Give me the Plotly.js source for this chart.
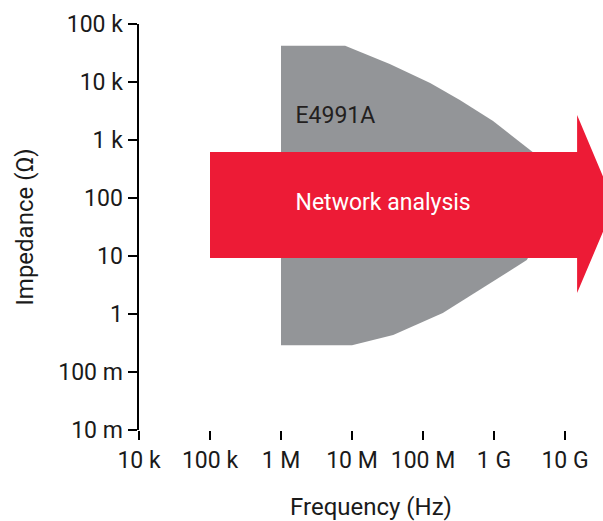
<!DOCTYPE html>
<html>
<head>
<meta charset="utf-8">
<script src="https://cdn.plot.ly/plotly-3.0.1.min.js"></script>
<style>html,body{margin:0;padding:0;background:#fff;}#chart{width:603px;height:521px;}</style>
</head>
<body>
<div id="chart"></div>
<script>
// Tick labels
const xTickVals = [1e4, 1e5, 1e6, 1e7, 1e8, 1e9, 1e10];
const xTickText = ["10 k", "100 k", "1 M", "10 M", "100 M", "1 G", "10 G"];
const yTickVals = [0.01, 0.1, 1, 10, 100, 1e3, 1e4, 1e5];
const yTickText = ["10 m", "100 m", "1", "10", "100", "1 k", "10 k", "100 k"];

// E4991A measurement range outline (frequency Hz, impedance Ohm)
const e4991Freq = [1e6, 8e6, 3.4e7, 1.26e8, 3.3e8, 9.7e8, 3.5e9, 8.5e9, 2.9e9, 6.3e8, 1.9e8, 3.8e7, 1e7, 1e6];
const e4991Imp  = [42000, 42000, 20400, 9600, 4900, 2130, 620, 93, 8.5, 2.6, 1.04, 0.435, 0.29, 0.29];

// Network analysis arrow outline
const arrowFreq = [1e5, 1.48e10, 1.48e10, 5e10, 1.48e10, 1.48e10, 1e5];
const arrowImp  = [620, 620, 2700, 78, 2.3, 9.25, 9.25];

// Labels
const labelE4991 = {text: "E4991A", f: 1.6e6, z: 2500};
const labelNA = {text: "Network analysis", f: 1.6e6, z: 78};

const FONT = "Roboto, 'Noto Sans', sans-serif";
const INK = "#1a1a1a";

const traces = [
  {x: e4991Freq, y: e4991Imp, type: "scatter", mode: "lines", fill: "toself",
   fillcolor: "#939598", line: {width: 0, color: "#939598"}, hoverinfo: "skip"},
  {x: arrowFreq, y: arrowImp, type: "scatter", mode: "lines", fill: "toself",
   fillcolor: "#ED1B36", line: {width: 0, color: "#ED1B36"}, hoverinfo: "skip"},
  {x: [labelE4991.f], y: [labelE4991.z], type: "scatter", mode: "text", text: [labelE4991.text],
   textposition: "middle right", textfont: {family: FONT, size: 23, color: "#231f20"}, hoverinfo: "skip"},
  {x: [labelNA.f], y: [labelNA.z], type: "scatter", mode: "text", text: [labelNA.text],
   textposition: "middle right", textfont: {family: FONT, size: 23, color: "#ffffff"}, hoverinfo: "skip"}
];

const layout = {
  width: 603, height: 521,
  margin: {l: 139, r: 0, t: 24, b: 91, pad: 0},
  paper_bgcolor: "#ffffff", plot_bgcolor: "#ffffff",
  showlegend: false,
  font: {family: FONT, size: 23, color: INK},
  xaxis: {
    type: "log", range: [4, 10.535], showgrid: false, zeroline: false, showline: false,
    tickmode: "array", tickvals: xTickVals, ticktext: xTickText,
    ticks: "outside", ticklen: 9, tickwidth: 2.5, tickcolor: "#000",
    tickfont: {family: FONT, size: 23, color: INK},
    title: {text: "Frequency (Hz)", font: {family: FONT, size: 24, color: INK}, standoff: 28},
    automargin: false, fixedrange: true
  },
  yaxis: {
    type: "log", range: [-2, 5], showgrid: false, zeroline: false,
    showline: true, linecolor: "#000", linewidth: 2.5,
    tickmode: "array", tickvals: yTickVals, ticktext: yTickText,
    ticks: "outside", ticklen: 9, tickwidth: 2.5, tickcolor: "#000",
    tickfont: {family: FONT, size: 23, color: INK},
    title: {text: "Impedance (Ω)", font: {family: FONT, size: 24, color: INK}, standoff: 18},
    automargin: false, fixedrange: true
  },
  shapes: [
    {type: "line", xref: "x", yref: "paper", x0: 4, x1: 10, y0: 0, y1: 0,
     line: {color: "#000", width: 2.5}, layer: "above"}
  ]
};

Plotly.newPlot("chart", traces, layout, {displayModeBar: false, staticPlot: true});
</script>
</body>
</html>
